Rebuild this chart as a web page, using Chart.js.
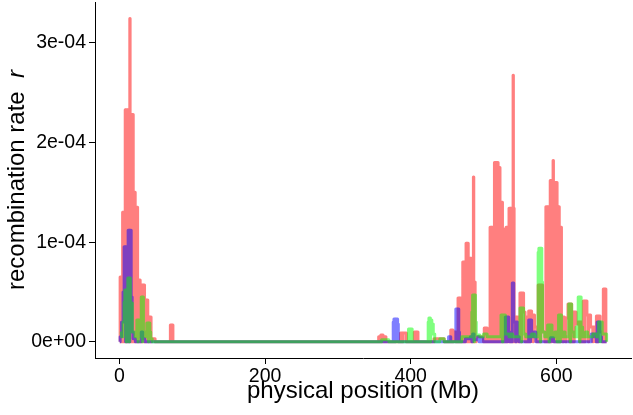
<!DOCTYPE html>
<html lang="en">
<head>
  <meta charset="UTF-8">
  <title>Recombination rate</title>
  <script src="https://cdn.jsdelivr.net/npm/chart.js"></script>
  <style>
    body { margin: 0; background: #fff; }
  </style>
</head>
<body>
  <canvas id="myChart" width="633" height="415"></canvas>

  <script>
    // [physical position (Mb), recombination rate (x 1e-4)]
    var redTrack = [
      [0.5,0],[1,0.65],[2.6,0],[3,0.65],[4.4,1.3],[4.6,0],[5,1.3],[6.6,0],[7,1.3],[8,2.33],[8.6,0],[9,2.33],
      [10.6,0],[11,2.33],[12.6,0],[13,2.33],[14.3,3.245],[14.7,2.28],[15,0],[15.4,2.28],[17,0],[17.4,2.28],[19,0],
      [19.4,1.5],[21,0],[21.4,1.5],[21.7,1.35],[23,0],[23.4,1.35],[25,0],[25.4,0.62],[27,0],[27.4,0.62],[28.5,0.57],
      [29,0],[29.4,0.57],[31,0],[31.4,0.57],[33,0],[33.4,0.57],[34.5,0],[35,0.42],[36.6,0],[37,0.42],[39,0],
      [40,0.25],[41.6,0],[42,0.25],[43.5,0],[44.5,0.03],[49,0],[70,0.17],[72,0],[72.3,0.17],[73.5,0],
      [356,0.05],[358,0],[359,0.07],[362,0],[363,0.05],[366,0],[386,0.09],[389,0],[389.5,0.09],[394,0],
      [405,0.1],[407.5,0],[408,0.1],[410,0],[432,0.03],[446,0],[455,0.12],[458,0],[458.5,0.1],[462,0],
      [465,0.44],[466.6,0],[467,0.44],[469,0],[471.5,0.8],[473.1,0],[473.5,0.8],[475,0],[475.4,0.8],[476,0.99],
      [477,0],[477.4,0.99],[479,0.84],[479.4,0],[479.8,0.84],[481.4,0],[481.8,0.84],[483.4,0],[483.8,0.6],
      [485.4,0],[485.8,0.6],[486.1,1.655],[486.6,0.6],[488.5,0],
      [490,0.05],[500,0],[501,0.14],[503,0],[503.5,0.14],[505,0],
      [509,1.15],[510.6,0],[511,1.15],[512.6,0],[513,1.15],[514.6,0],[515,1.8],[516.6,0],[517,1.8],[518.6,0],
      [519,1.8],[520,1.75],[520.6,0],[521,1.75],[522.6,0],[523,1.4],[524.6,0],[525,1.4],[526,1.13],[526.6,0],
      [527,1.13],[528.6,0],[529,1.13],[530.6,0],[531,1.15],[532.6,0],[533,1.15],[534.6,0],[535,1.34],[536.6,0],
      [537,1.34],[538.6,0],[539,1.34],[540.6,2.675],[541,1.34],[542,0],
      [542.5,0.25],[545,0],[545.5,0.25],[548,0],[550,0.49],[552,0],[552.5,0.49],[555,0.3],[557,0],[557.5,0.25],
      [560,0],[562,0.31],[564,0],[564.5,0.31],[566,0.27],[568,0],[568.5,0.27],[570,0.15],[573,0],
      [575,0.57],[576.6,0],[577,0.57],[578.6,0],[579,0.57],[581,0.1],[584,0],
      [585.6,1.355],[587.2,0],[587.6,1.355],[589.2,0],[589.6,1.355],[591.2,0],[591.6,1.62],[593.2,0],[593.6,1.62],
      [595.5,1.82],[596,1.6],[597.2,0],[597.6,1.6],[599.2,0],[599.6,1.6],[601,1.355],[601.2,0],[601.6,1.355],
      [603.2,0],[603.6,1.355],[604,1.15],[605.2,0],[605.6,1.15],
      [607,0.25],[609,0],[609.5,0.25],[611,0.24],[613,0],[613.5,0.24],[616,0.38],[618,0],[618.5,0.38],[621,0],
      [622,0.3],[624,0],[624.5,0.3],[627,0.18],[630,0.2],[632,0],[632.5,0.2],[635,0],[637,0.41],[639,0],
      [639.5,0.41],[642,0.27],[644,0],[644.5,0.27],[647,0.15],[650,0],[650.5,0.15],[654,0],[655,0.26],[657,0],
      [657.5,0.26],[660,0.1],[663,0],[664.5,0.53],[666,0],[666.5,0.53],[668,0],[669,0]
    ];

    var blueTrack = [
      [0.5,0],[1,0.05],[3,0.2],[5,0.5],[6.5,0.955],[8.5,0],[8.8,0.955],[10.3,0.7],[11.5,0],[12,1.12],[14,0],
      [14.3,1.12],[16.2,0.45],[17.5,0.1],[19,0.03],[22,0],[30,0.1],[32,0.03],[35,0],
      [376,0.2],[377,0.23],[379,0],[379.5,0.23],[382,0.18],[383,0],
      [452,0.05],[455,0],[462,0.33],[464,0],[464.5,0.33],[466,0.1],[467,0],
      [475,0.03],[482,0.05],[484,0],[485,0.08],[487,0.02],[492,0.05],[494,0],[496,0.04],[499,0],
      [530,0.25],[532,0],[532.5,0.25],[534.5,0.1],[536,0],[539.5,0.59],[541.5,0.2],[544,0],[545,0.2],[546.5,0.05],[549,0],
      [562,0.22],[564,0],[564.5,0.22],[566,0.05],[569,0.1],[572,0],
      [592,0.04],[596,0],[648,0.08],[651,0.05],[653,0.08],[655,0],[656,0.2],[658,0],[658.3,0.2],[660,0.05],[662,0],[669,0]
    ];

    var greenTrack = [
      [0.5,0.09],[3,0.05],[5,0.2],[6.5,0.4],[7.5,0.52],[9.5,0],[10,0.52],[11.6,0.64],[13.5,0],[13.8,0.64],[15,0.39],
      [17.8,0.1],[21.5,0.05],[24,0.22],[25.5,0],[25.8,0.22],[27,0.05],[30,0.45],[31.5,0],[31.8,0.45],[33,0.1],
      [36,0.05],[37.7,0.19],[40,0],[40.3,0.19],[41.8,0.1],[43,0.03],[45,0],
      [360,0.02],[370,0],[397,0.13],[399,0],[399.5,0.13],[402,0],
      [424,0.2],[425,0.24],[427,0],[427.5,0.22],[429,0.18],[431,0.08],[433,0],[440,0.03],[446,0],
      [470,0.05],[484,0.3],[485,0.47],[487,0],[487.5,0.47],[489,0.2],[490,0.07],[495,0.05],[500,0.08],[505,0.05],
      [524,0.27],[526,0],[526.5,0.27],[530,0.08],[535,0.05],[537,0.08],[540,0.05],
      [550,0.34],[552,0],[552.5,0.34],[555,0.08],[558,0.05],[566,0.08],[570,0.05],
      [575,0.9],[576,0.94],[578,0],[578.5,0.94],[580,0.6],[581,0.1],[584,0.05],
      [588,0.17],[590,0],[590.5,0.17],[594,0.05],[598,0.1],[601,0],[603,0.27],[605,0],[605.5,0.27],[607,0.05],
      [610,0.1],[612,0.05],[617,0.38],[619,0],[619.5,0.38],[621,0.1],[624,0.05],[627,0.15],[629,0.05],
      [630,0.45],[632,0],[632.5,0.45],[634,0.15],[636,0.05],[640,0.1],[643,0.05],[650,0.08],[655,0.05],
      [658,0.2],[660,0],[660.5,0.2],[663,0.08],[669,0]
    ];

    var xTicks = [0, 200, 400, 600];
    var yTicks = [0, 1e-4, 2e-4, 3e-4];
    var yTickLabels = ['0e+00', '1e-04', '2e-04', '3e-04'];

    var FONT = "'Liberation Sans', Arial, Helvetica, sans-serif";

    function toPoints(track) {
      return track.map(function (p) { return { x: p[0], y: p[1] * 1e-4 }; });
    }

    function makeSeries(track, color, order) {
      return {
        data: toPoints(track),
        borderColor: color,
        borderWidth: 3,
        borderJoinStyle: 'round',
        pointRadius: 0,
        stepped: true,
        tension: 0,
        fill: false,
        order: order
      };
    }

    // axis titles drawn by hand so the r can be italic
    var titlesPlugin = {
      id: 'titles',
      afterDraw: function (chart) {
        var ctx = chart.ctx;
        var area = chart.chartArea;
        ctx.save();
        ctx.fillStyle = '#000';
        ctx.textBaseline = 'middle';
        ctx.font = '24px ' + FONT;
        ctx.textAlign = 'center';
        ctx.fillText('physical position (Mb)', (area.left + area.right) / 2, 391);

        ctx.translate(17, (area.top + area.bottom) / 2);
        ctx.rotate(-Math.PI / 2);
        var main = 'recombination rate  ';
        var wMain = ctx.measureText(main).width;
        ctx.font = 'italic 24px ' + FONT;
        var wR = ctx.measureText('r').width;
        var start = -(wMain + wR) / 2;
        ctx.textAlign = 'left';
        ctx.font = '24px ' + FONT;
        ctx.fillText(main, start, 0);
        ctx.font = 'italic 24px ' + FONT;
        ctx.fillText('r', start + wMain, 0);
        ctx.restore();
      }
    };

    var ctx = document.getElementById('myChart').getContext('2d');
    var chart = new Chart(ctx, {
      type: 'line',
      data: {
        datasets: [
          makeSeries(redTrack, 'rgba(255, 0, 0, 0.5)', 3),
          makeSeries(blueTrack, 'rgba(0, 0, 255, 0.5)', 2),
          makeSeries(greenTrack, 'rgba(0, 255, 0, 0.5)', 1)
        ]
      },
      options: {
        responsive: false,
        animation: false,
        devicePixelRatio: 1,
        layout: { padding: { top: 2, right: 2, left: 0, bottom: 0 } },
        plugins: { legend: { display: false }, tooltip: { enabled: false } },
        scales: {
          x: {
            type: 'linear',
            min: -33.5,
            max: 702.5,
            afterBuildTicks: function (scale) {
              scale.ticks = xTicks.map(function (v) { return { value: v }; });
            },
            afterFit: function (scale) {
              scale.height = 57;
              scale.paddingLeft = 0;
              scale.paddingRight = 0;
            },
            ticks: {
              color: '#000',
              font: { family: FONT, size: 19.5 },
              padding: 1,
              maxRotation: 0,
              callback: function (v) { return String(v); }
            },
            grid: { drawOnChartArea: false, drawTicks: true, tickLength: 6, tickColor: '#000', tickWidth: 1 },
            border: { display: true, color: '#000', width: 1 }
          },
          y: {
            type: 'linear',
            min: -1.62e-5,
            max: 3.41e-4,
            afterBuildTicks: function (scale) {
              scale.ticks = yTicks.map(function (v) { return { value: v }; });
            },
            afterFit: function (scale) {
              scale.width = 95;
              scale.paddingTop = 0;
              scale.paddingBottom = 0;
            },
            ticks: {
              color: '#000',
              font: { family: FONT, size: 19.5 },
              padding: 3,
              callback: function (v, i) { return yTickLabels[i]; }
            },
            grid: { drawOnChartArea: false, drawTicks: true, tickLength: 6, tickColor: '#000', tickWidth: 1 },
            border: { display: true, color: '#000', width: 1 }
          }
        }
      },
      plugins: [titlesPlugin]
    });
  </script>
</body>
</html>
